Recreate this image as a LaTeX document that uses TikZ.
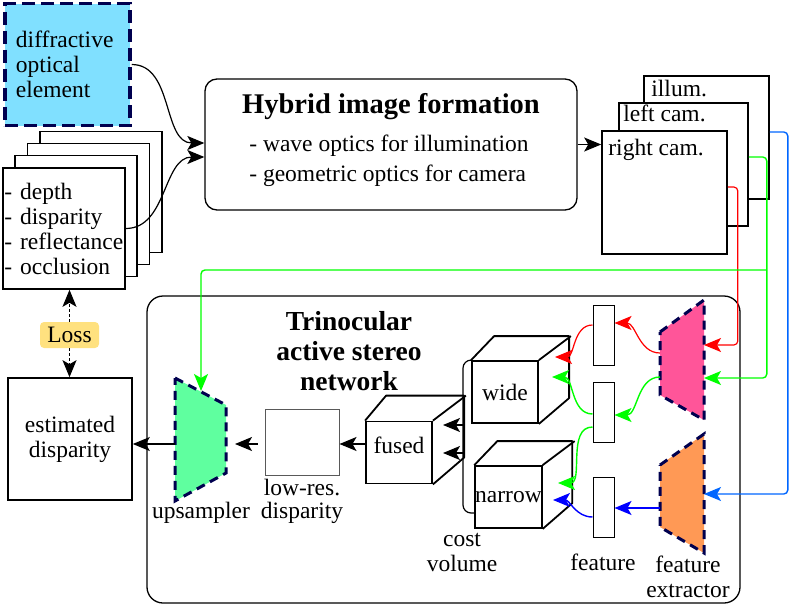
\documentclass[tikz,border=0pt]{standalone}
\usepackage{fontspec}
\setmainfont{Liberation Serif}
\usetikzlibrary{arrows.meta}

\definecolor{doeblue}{HTML}{80E0FF}
\definecolor{lossyellow}{HTML}{FFE17F}
\definecolor{upsgreen}{HTML}{5FFF9F}
\definecolor{extpink}{HTML}{FF5599}
\definecolor{extorange}{HTML}{FF9955}
\definecolor{dashnavy}{HTML}{00004F}
\definecolor{camblue}{HTML}{0066FF}

\begin{document}
\begin{tikzpicture}[
  x=1pt, y=-1pt,
  bigtip/.tip={Stealth[length=17pt,width=14pt,inset=4pt]},
  txt/.style={font={\fontsize{23.5}{25}\selectfont}},
  doebox/.style={draw=dashnavy, line width=3.5pt, dash pattern=on 13pt off 6pt, fill=doeblue, minimum width=125pt, minimum height=122pt, text width=103pt, inner sep=0pt, align=left, txt},
  card/.style={draw, line width=1.6pt, fill=white, minimum width=122pt, minimum height=121pt, inner sep=0pt},
  camcard/.style={draw, line width=1.6pt, fill=white, minimum width=125pt, minimum height=123pt, inner sep=0pt},
  camlbl/.style={txt, anchor=north west, inner sep=0pt},
  hybridbox/.style={draw, line width=1.3pt, rounded corners=12pt, minimum width=372pt, minimum height=131pt},
  titletxt/.style={font={\fontsize{28.5}{30}\selectfont\bfseries}, align=center},
  netbox/.style={draw, line width=1.3pt, rounded corners=16pt, minimum width=593pt, minimum height=307pt},
  boxnode/.style={draw, line width=1.6pt, minimum width=124pt, minimum height=122pt, align=center, txt},
  lowresbox/.style={draw=gray!70!black, line width=1pt, minimum width=74pt, minimum height=66pt},
  cubeface/.style={draw, line width=1.8pt, fill=white, minimum width=66pt, minimum height=62pt, inner sep=0pt, txt},
  cubeedge/.style={line width=1.8pt, line join=round},
  featbar/.style={draw, line width=1pt, minimum width=21pt, minimum height=60pt, inner sep=0pt},
  netpart/.style={draw=dashnavy, line width=3pt, dash pattern=on 9pt off 6pt},
  lossnode/.style={fill=lossyellow, rounded corners=4pt, minimum width=59pt, minimum height=26pt, inner sep=1pt, txt},
  lossarr/.style={-bigtip, line width=1.2pt, dash pattern=on 3pt off 2pt},
  caption/.style={txt, align=center, inner sep=0pt},
  arr/.style={-bigtip, line width=1.2pt},
  redwire/.style={-bigtip, draw=red, line width=1.2pt, rounded corners=4pt},
  greenwire/.style={-bigtip, draw=green, line width=1.4pt, rounded corners=4pt},
  bluewire/.style={-bigtip, draw=camblue, line width=1.4pt, rounded corners=4pt},
  innerblue/.style={-bigtip, draw=blue, line width=1.4pt}
]
\useasboundingbox (0,0) rectangle (789,605);

% inputs
\node[doebox] (doe) at (67.5,64.5) {diffractive\\optical\\element};
\node[card] (scene4) at (101,192) {};
\node[card] (scene3) at (88.5,204) {};
\node[card] (scene2) at (76,216) {};
\node[card, txt, text width=119pt, align=left, inner xsep=1.5pt] (scene1) at (64,228.5) {- depth\\- disparity\\- reflectance\\- occlusion};

% image formation
\node[hybridbox] (hybrid) at (391,144.5) {};
\node[titletxt] (hybridttl) at (391,107) {Hybrid image formation};
\node[txt, font={\fontsize{23.5}{30}\selectfont}, align=left] (hybridtxt) at (389,161) {- wave optics for illumination\\- geometric optics for camera};
\draw[arr] (doe.east) to[out=0,in=180] ([yshift=1.5pt]hybrid.west);
\draw[arr] (scene1.east) to[out=0,in=180] ([yshift=-12.5pt]hybrid.west);

% rendered images
\node[camcard, label={[camlbl, xshift=8pt, yshift=-5pt]north west:illum.}] (illum) at (706.5,137.5) {};
\node[camcard, minimum width=129pt, label={[camlbl, xshift=5pt, yshift=-3pt]north west:left cam.}] (lcam) at (683.5,164.5) {};
\node[camcard, label={[camlbl, xshift=7pt, yshift=-9pt]north west:right cam.}] (rcam) at (664.5,192.5) {};
\draw[arr] (hybrid.east) -- (hybrid.east -| rcam.west);

% network
\node[netbox] (net) at (443.5,449.5) {};
\node[titletxt, font={\fontsize{27.5}{30}\selectfont\bfseries}] (nettitle) at (349,351) {Trinocular\\active stereo\\network};

% feature extractors
\draw[netpart, fill=extpink] (660,332) -- (704,300) -- (704,420) -- (660,395) -- cycle;
\draw[netpart, fill=extorange] (660,465) -- (704,434) -- (704,553) -- (660,527) -- cycle;
\coordinate (pinkr1) at (704,345);
\coordinate (pinkr2) at (704,378);
\coordinate (pinkl1) at (660,353);
\coordinate (pinkl2) at (660,377);
\coordinate (orgr) at (704,494);
\coordinate (orgl) at (660,508);
\node[caption] (extcap) at (688,577) {feature\\extractor};

% features
\node[featbar] (feat1) at (603.5,335) {};
\node[featbar] (feat2) at (603.5,412) {};
\node[featbar] (feat3) at (603.5,507) {};
\node[caption] (featcap) at (603,562) {feature};

% cost volumes
\node[cubeface] (wide) at (505,392) {wide};
\draw[cubeedge] (wide.north west) -- ++(23,-24) -- ++(75,0) -- ++(0,62) -- (wide.south east);
\draw[cubeedge] (wide.north east) -- ++(32,-24);
\node[cubeface] (narrow) at (508.5,497) {narrow};
\draw[cubeedge] (narrow.north west) -- ++(23,-24) -- ++(75,0) -- ++(0,62) -- (narrow.south east);
\draw[cubeedge] (narrow.north east) -- ++(32,-24);
\node[cubeface, label={[txt, yshift=7pt]center:fused}] (fused) at (399,452.5) {};
\draw[cubeedge] (fused.north west) -- ++(21,-25) -- ++(78,0) -- ++(0,62) -- (fused.south east);
\draw[cubeedge] (fused.north east) -- ++(33,-25);
\coordinate (wider1) at (555,357);
\coordinate (wider2) at (552,377);
\coordinate (narrowr1) at (558,483);
\coordinate (narrowr2) at (553,500);
\coordinate (cvbot) at (463,513);
\draw[line width=1.2pt, rounded corners=8pt] (wide.north west) -| (cvbot) -- (narrow.west |- cvbot);
\coordinate (cvin1) at (443,425);
\coordinate (cvin2) at (443,453);
\draw[arr] (cvbot |- cvin1) -- (cvin1);
\draw[arr] (cvbot |- cvin2) -- (cvin2);
\node[caption] (costcap) at (462,552) {cost\\volume};

% disparity
\coordinate (mid) at (0,444);
\node[lowresbox] (lowres) at (302,442) {};
\node[caption, font={\fontsize{23.5}{23}\selectfont}] (lowcap) at (302,501) {low-res.\\disparity};
\draw[netpart, fill=upsgreen] (175,378) -- (226,405) -- (226,473) -- (175,501) -- cycle;
\coordinate (upsl) at (175,444);
\coordinate (upsr) at (226,444);
\coordinate (upst) at (201,391);
\node[caption] (upscap) at (201,513) {upsampler};
\draw[arr] (fused.west |- mid) -- (lowres.east |- mid);
\draw[arr, shorten <=7pt, shorten >=9pt] (lowres.west |- mid) -- (upsr);
\node[boxnode] (est) at (70,439) {estimated\\disparity};
\draw[arr] (upsl) -- (est.east |- upsl);
\node[lossnode] (loss) at (69.5,335) {Loss};
\draw[lossarr] (loss.north) -- (scene1.south -| loss.north);
\draw[lossarr] (loss.south) -- (est.north -| loss.south);

% camera wires
\coordinate (gsplit) at (766,270);
\draw[redwire] ([yshift=5.5pt]rcam.east) -- ++(10,0) |- (pinkr1);
\draw[greenwire] ([yshift=7.5pt]lcam.east) -- ++(18,0) |- (pinkr2);
\draw[greenwire] (gsplit) -| (upst);
\draw[bluewire] ([yshift=5.5pt]illum.east) -- ++(18,0) |- (orgr);

% feature wires
\draw[redwire] (pinkl1) to[out=180,in=0] ([yshift=12pt]feat1.east);
\draw[redwire] ([yshift=10pt]feat1.west) to[out=180,in=0] (wider1);
\draw[greenwire] (pinkl2) to[out=180,in=0] ([yshift=-3pt]feat2.east);
\draw[greenwire] ([yshift=-2pt]feat2.west) to[out=180,in=0] (wider2);
\draw[greenwire] ([yshift=-15pt]feat2.west) to[out=180,in=0] (narrowr1);
\draw[innerblue] (orgl) -- (feat3.east |- orgl);
\draw[innerblue] ([yshift=-10pt]feat3.west) to[out=180,in=0] (narrowr2);
\end{tikzpicture}
\end{document}
